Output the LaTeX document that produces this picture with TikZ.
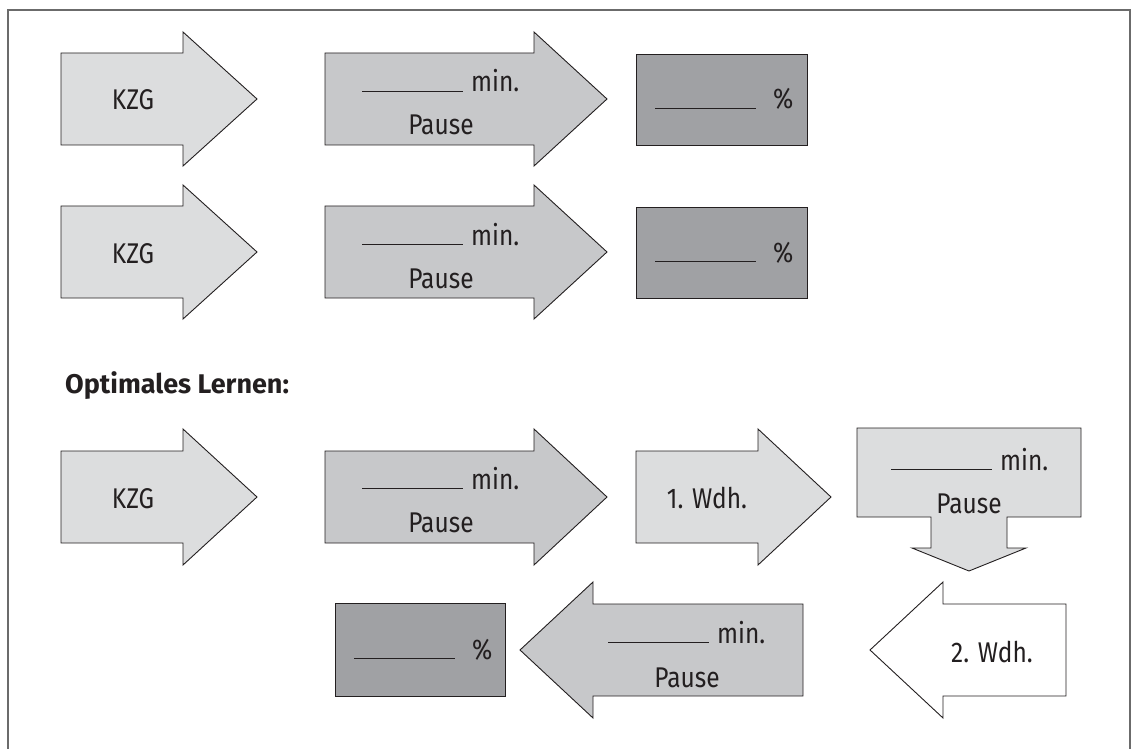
\documentclass[tikz,border=0pt]{standalone}
\usepackage{fontspec}
\setmainfont[FakeStretch=0.86]{Fira Sans}
\newfontfamily\titlefont{Fira Sans}
\definecolor{lightgrey}{HTML}{DCDDDE}
\definecolor{midgrey}{HTML}{C7C8CA}
\definecolor{darkgrey}{HTML}{A0A1A4}
\definecolor{framegrey}{HTML}{6B6B6B}
\definecolor{ink}{HTML}{231F20}
\newcommand{\blank}{\rule{101pt}{1.3pt}}
\begin{document}
\begin{tikzpicture}[x=1pt,y=-1pt,
	form/.style={draw=ink,line width=0.9pt,line join=miter},
	lbl/.style={inner sep=0pt,anchor=base,font=\fontsize{28.5}{33}\selectfont,text=ink},
	lblw/.style={lbl,anchor=base west}]
	\useasboundingbox (0,0) rectangle (1136,749);
	\draw[framegrey,line width=2.6pt] (8,749) -- (8,10) -- (1130,10) -- (1130,749);
	% Zeile 1 und 2
	\draw[form,fill=lightgrey] (61,53) -- (183,53) -- (183,32) -- (257,99) -- (183,166) -- (183,145) -- (61,145) -- cycle;
	\draw[form,fill=midgrey] (325,53) -- (534,53) -- (534,32) -- (607,99) -- (534,166) -- (534,145) -- (325,145) -- cycle;
	\draw[form,fill=darkgrey] (636,54) rectangle (807,145);
	\node[lbl] (kzg1) at (133,110) {KZG};
	\node[lblw] (min1) at (362,92) {\blank\hspace{8pt}min.};
	\node[lbl] (pause1) at (441,135) {Pause};
	\node[lblw] (pct1) at (655,109) {\blank\hspace{17pt}\%};
	\draw[form,fill=lightgrey] (61,206) -- (183,206) -- (183,185) -- (257,252) -- (183,319) -- (183,298) -- (61,298) -- cycle;
	\draw[form,fill=midgrey] (325,206) -- (534,206) -- (534,185) -- (607,252) -- (534,319) -- (534,298) -- (325,298) -- cycle;
	\draw[form,fill=darkgrey] (636,207) rectangle (807,298);
	\node[lbl] (kzg2) at (133,263) {KZG};
	\node[lblw] (min2) at (362,245) {\blank\hspace{8pt}min.};
	\node[lbl] (pause2) at (441,288) {Pause};
	\node[lblw] (pct2) at (655,262) {\blank\hspace{17pt}\%};
	% Optimales Lernen
	\node[lblw,font=\titlefont\fontsize{27}{32}\selectfont\bfseries] (titel) at (65,393) {Optimales Lernen:};
	\draw[form,fill=lightgrey] (61,451) -- (183,451) -- (183,429) -- (257,497) -- (183,565) -- (183,543) -- (61,543) -- cycle;
	\draw[form,fill=midgrey] (325,451) -- (534,451) -- (534,429) -- (607,497) -- (534,565) -- (534,543) -- (325,543) -- cycle;
	\draw[form,fill=lightgrey] (636,451) -- (758,451) -- (758,429) -- (831,497) -- (758,565) -- (758,543) -- (636,543) -- cycle;
	\draw[form,fill=lightgrey] (857,428) -- (1081,428) -- (1081,517) -- (1007,517) -- (1007,548) -- (1026,548) -- (969,571) -- (912,548) -- (931,548) -- (931,517) -- (857,517) -- cycle;
	\node[lbl] (kzg3) at (133,508) {KZG};
	\node[lblw] (min3) at (362,489) {\blank\hspace{8pt}min.};
	\node[lbl] (pause3) at (441,532) {Pause};
	\node[lbl] (wdh1) at (707,508) {1. Wdh.};
	\node[lblw] (min4) at (891,470) {\blank\hspace{8pt}min.};
	\node[lbl] (pause4) at (969,513) {Pause};
	\draw[form,fill=white] (1066,604) -- (943,604) -- (943,582) -- (870,650) -- (943,718) -- (943,696) -- (1066,696) -- cycle;
	\draw[form,fill=midgrey] (803,604) -- (593,604) -- (593,582) -- (520,650) -- (593,718) -- (593,696) -- (803,696) -- cycle;
	\draw[form,fill=darkgrey] (335,603) rectangle (505,696);
	\node[lbl] (wdh2) at (992,662) {2. Wdh.};
	\node[lblw] (min5) at (608,643) {\blank\hspace{8pt}min.};
	\node[lbl] (pause5) at (687,687) {Pause};
	\node[lblw] (pct3) at (354,659) {\blank\hspace{17pt}\%};
\end{tikzpicture}
\end{document}
